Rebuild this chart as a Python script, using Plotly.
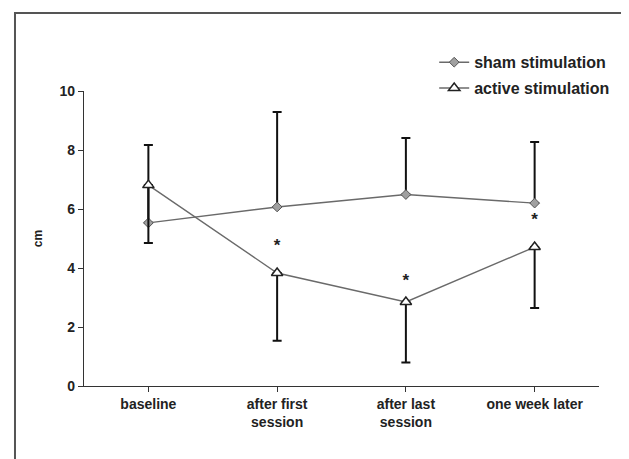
import plotly.graph_objects as go

categories = ["baseline", "after first<br>session", "after last<br>session", "one week later"]
sham_mean = [5.53, 6.07, 6.49, 6.20]
sham_upper = [8.17, 9.29, 8.41, 8.27]
active_mean = [6.81, 3.83, 2.85, 4.71]
active_lower = [4.85, 1.53, 0.80, 2.64]
star_y = [None, 4.71, 3.53, 5.59]
y_ticks = [0, 2, 4, 6, 8, 10]

x = list(range(len(categories)))
sham_plus = [u - m for u, m in zip(sham_upper, sham_mean)]
active_minus = [m - l for m, l in zip(active_mean, active_lower)]

FONT = "Liberation Sans, Arial, sans-serif"
TXT = "#222222"

fig = go.Figure()
fig.add_trace(go.Scatter(
    x=x, y=sham_mean, mode="lines+markers", name="sham stimulation",
    legendgroup="a",
    line=dict(color="#6a6a6a", width=1.4),
    marker=dict(symbol="diamond", size=7.5, color="#a0a0a0", line=dict(color="#555555", width=1)),
    error_y=dict(type="data", symmetric=False, array=sham_plus, arrayminus=[0]*4,
                 color="#111111", thickness=2, width=4.5),
))
fig.add_trace(go.Scatter(
    x=x, y=active_mean, mode="lines+markers", name="active stimulation",
    legendgroup="b",
    line=dict(color="#6a6a6a", width=1.4),
    marker=dict(symbol="triangle-up", size=10, color="white", line=dict(color="#222222", width=1.5)),
    error_y=dict(type="data", symmetric=False, array=[0]*4, arrayminus=active_minus,
                 color="#111111", thickness=2, width=4.5),
))
fig.add_trace(go.Scatter(
    x=x, y=star_y, mode="text", text=["*" if v is not None else "" for v in star_y],
    textfont=dict(family=FONT, size=17, color=TXT, weight="bold"),
    showlegend=False, hoverinfo="skip",
))

fig.update_layout(
    width=629, height=459,
    margin=dict(l=76, r=38, t=83, b=81),
    paper_bgcolor="white", plot_bgcolor="white",
    font=dict(family=FONT, color=TXT, size=13),
    showlegend=True,
    legend=dict(x=0.68, y=1.155, xanchor="left", yanchor="top",
                bgcolor="rgba(0,0,0,0)", tracegroupgap=2,
                font=dict(family=FONT, size=16, color=TXT, weight="bold")),
    xaxis=dict(
        range=[-0.5, 3.5], tickmode="array", tickvals=x, ticktext=categories,
        tickson="boundaries", ticks="outside", ticklen=5, tickcolor="#333",
        showline=True, linecolor="#333", linewidth=1.2, showgrid=False, zeroline=False,
        tickfont=dict(family=FONT, size=14, color=TXT, weight="bold"),
    ),
    yaxis=dict(
        range=[0, 10], tickvals=y_ticks, ticks="outside", ticklen=5, tickcolor="#333",
        showline=True, linecolor="#333", linewidth=1.2, showgrid=False, zeroline=False,
        tickfont=dict(family=FONT, size=14, color=TXT, weight="bold"),
        title=dict(text="cm", standoff=14, font=dict(family=FONT, size=12, color=TXT, weight="bold")),
    ),
    shapes=[dict(type="rect", xref="paper", yref="paper",
                 x0=-0.134, y0=-0.5, x1=1.2, y1=1.264,
                 line=dict(color="#555555", width=2), fillcolor="rgba(0,0,0,0)", layer="below")],
)

fig.write_html("out.html")
